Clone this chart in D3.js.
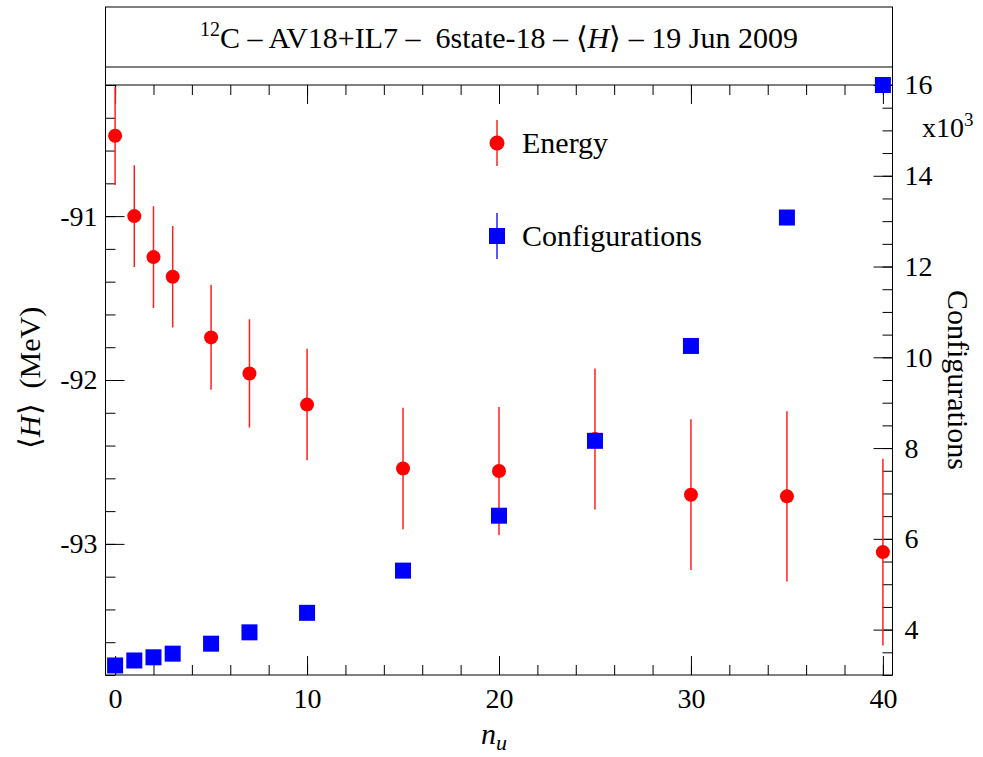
<!DOCTYPE html>
<html><head><meta charset="utf-8">
<script src="https://cdn.jsdelivr.net/npm/d3@7"></script>
<style>
body{margin:0;background:#fff;}
</style></head>
<body>
<svg id="chart" width="983" height="757"></svg>
<script>
// ---- data ----
const nu = [0, 1, 2, 3, 5, 7, 10, 15, 20, 25, 30, 35, 40];
const energy = [-90.51, -91.00, -91.25, -91.37, -91.74, -91.96, -92.15, -92.54, -92.555, -92.36, -92.70, -92.71, -93.05];
const energyErr = [0.30, 0.31, 0.31, 0.31, 0.32, 0.33, 0.34, 0.37, 0.39, 0.43, 0.46, 0.52, 0.57];
const configs = [3210, 3320, 3390, 3470, 3690, 3940, 4370, 5300, 6510, 8160, 10250, 13080, 16000];
const xMajorTicks = [0, 10, 20, 30, 40];
const yMajorTicks = [-93, -92, -91];
const rMajorTicks = [4000, 6000, 8000, 10000, 12000, 14000, 16000];
const legendLabels = ["Energy", "Configurations"];

const svg = d3.select("#chart");
const L = 105.5, R = 892.5, T = 85, B = 675;
const x = d3.scaleLinear().domain([-0.5, 40.5]).range([L, R]);
const yE = d3.scaleLinear().domain([-93.8, -90.2]).range([B, T]);
const yC = d3.scaleLinear().domain([3000, 16000]).range([B, T]);

const FS = 28;
const FF = '"Liberation Serif", "Tinos", "Times New Roman", serif';

// frame / title box
const fr = svg.append("g").attr("fill","none").attr("stroke","#000").attr("stroke-width",1);
fr.append("rect").attr("x",L).attr("y",7).attr("width",R-L).attr("height",B-7);
fr.append("line").attr("x1",L).attr("x2",R).attr("y1",67).attr("y2",67);
fr.append("line").attr("x1",L).attr("x2",R).attr("y1",T).attr("y2",T);

// title
const title = svg.append("text").attr("x",(L+R)/2).attr("y",48).attr("text-anchor","middle").style("font-size","30px").attr("xml:space","preserve").style("white-space","pre");
title.append("tspan").attr("dy",-12).style("font-size","20px").text("12");
title.append("tspan").attr("dy",12).text("C – AV18+IL7 –  6state-18 – ⟨");
title.append("tspan").style("font-style","italic").text("H");
title.append("tspan").text("⟩ – 19 Jun 2009");

function styleAxis(g){ g.select(".domain").remove(); g.attr("font-family",FF); g.selectAll("line").attr("stroke","#000"); g.selectAll("text").style("font-size",FS+"px").style("font-family",FF).attr("fill","#000"); }

const range = (a,b,s)=>{const r=[];for(let v=a;v<=b+1e-9;v+=s)r.push(+v.toFixed(6));return r;};

// bottom axis
svg.append("g").attr("transform",`translate(0,${B})`)
  .call(d3.axisBottom(x).tickValues(range(0,40,2)).tickSize(-10).tickFormat("")).call(styleAxis);
svg.append("g").attr("transform",`translate(0,${B})`)
  .call(d3.axisBottom(x).tickValues(xMajorTicks).tickSize(-19).tickPadding(12).tickFormat(d3.format("d"))).call(styleAxis)
  .selectAll("text").attr("dy","0.71em").attr("y",13);
// top axis
svg.append("g").attr("transform",`translate(0,${T})`)
  .call(d3.axisTop(x).tickValues(range(0,40,2)).tickSize(-10).tickFormat("")).call(styleAxis);
svg.append("g").attr("transform",`translate(0,${T})`)
  .call(d3.axisTop(x).tickValues(xMajorTicks).tickSize(-19).tickFormat("")).call(styleAxis);

// left axis
svg.append("g").attr("transform",`translate(${L},0)`)
  .call(d3.axisLeft(yE).tickValues(range(-93.8,-90.2,0.2)).tickSize(-10).tickFormat("")).call(styleAxis);
svg.append("g").attr("transform",`translate(${L},0)`)
  .call(d3.axisLeft(yE).tickValues(yMajorTicks).tickSize(-19).tickPadding(8).tickFormat(d=>String(d))).call(styleAxis);

// right axis
svg.append("g").attr("transform",`translate(${R},0)`)
  .call(d3.axisRight(yC).tickValues(range(3000,16000,500)).tickSize(-10).tickFormat("")).call(styleAxis);
svg.append("g").attr("transform",`translate(${R},0)`)
  .call(d3.axisRight(yC).tickValues(rMajorTicks).tickSize(-19).tickPadding(12).tickFormat(d=>String(d/1000))).call(styleAxis);

const mult = svg.append("text").attr("x",922).attr("y",137).style("font-size",FS+"px").text("x10");
mult.append("tspan").attr("dy",-11).style("font-size","19px").text("3");

// axis titles
const lt = svg.append("text").attr("transform","translate(40,378) rotate(-90)").attr("text-anchor","middle").style("font-size","30px").attr("xml:space","preserve").style("white-space","pre");
lt.append("tspan").text("⟨");
lt.append("tspan").style("font-style","italic").text("H");
lt.append("tspan").text("⟩  (MeV)");

svg.append("text").attr("transform","translate(948,380) rotate(90)").attr("text-anchor","middle").style("font-size","30px").text("Configurations");

const xt = svg.append("text").attr("x",481).attr("y",744).style("font-size","30px");
xt.append("tspan").style("font-style","italic").text("n");
xt.append("tspan").attr("dy",6).style("font-style","italic").style("font-size","22px").text("u");

// data
const plot = svg.append("g");
svg.append("clipPath").attr("id","clip").append("rect").attr("x",L).attr("y",T).attr("width",R-L).attr("height",B-T);
const eData = nu.map((n,i)=>({n, v:energy[i], e:energyErr[i]}));
const cData = nu.map((n,i)=>({n, v:configs[i]}));

plot.append("g").attr("clip-path","url(#clip)").selectAll("line").data(eData).join("line")
  .attr("x1",d=>x(d.n)).attr("x2",d=>x(d.n))
  .attr("y1",d=>yE(d.v+d.e)).attr("y2",d=>yE(d.v-d.e))
  .attr("stroke","#ff2020").attr("stroke-width",1.5);
plot.append("g").selectAll("circle").data(eData).join("circle")
  .attr("cx",d=>x(d.n)).attr("cy",d=>yE(d.v)).attr("r",7).attr("fill","#ff0000");
plot.append("g").selectAll("rect").data(cData).join("rect")
  .attr("x",d=>x(d.n)-8).attr("y",d=>yC(d.v)-8).attr("width",16).attr("height",16).attr("fill","#0000ff");

// legend
const lg = svg.append("g");
lg.append("line").attr("x1",497).attr("x2",497).attr("y1",120).attr("y2",166).attr("stroke","#ff2020").attr("stroke-width",1.5);
lg.append("circle").attr("cx",497).attr("cy",143).attr("r",7.5).attr("fill","#ff0000");
lg.append("text").attr("x",522).attr("y",153).style("font-size","30px").text(legendLabels[0]);
lg.append("line").attr("x1",497).attr("x2",497).attr("y1",213).attr("y2",259).attr("stroke","#2020ff").attr("stroke-width",1.5);
lg.append("rect").attr("x",489).attr("y",228).attr("width",16).attr("height",16).attr("fill","#0000ff");
lg.append("text").attr("x",522).attr("y",246).style("font-size","30px").text(legendLabels[1]);

// serif font everywhere
svg.selectAll("text").style("font-family",FF).attr("fill","#000");
</script>
</body></html>
